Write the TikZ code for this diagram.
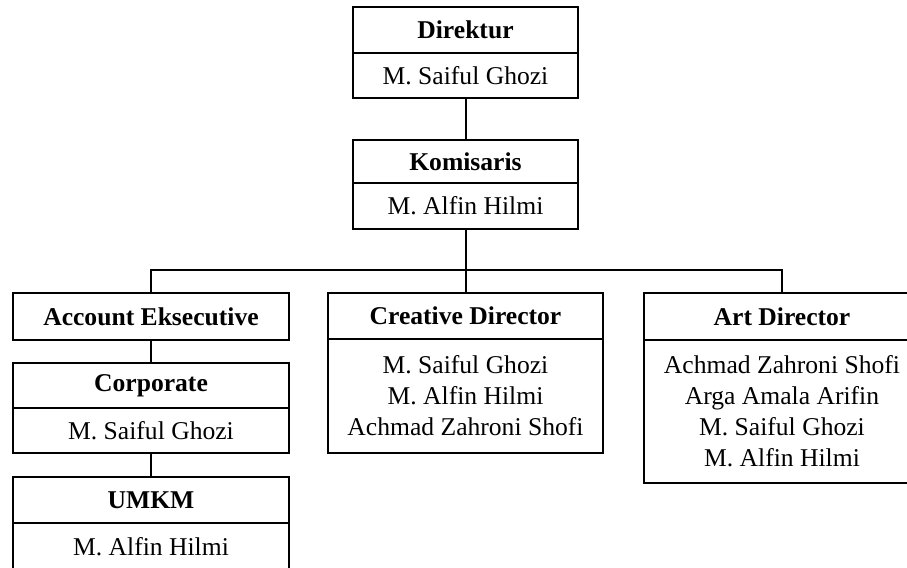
\documentclass[tikz,border=0pt]{standalone}
\usepackage{fontspec}
\setmainfont{Liberation Serif}
\usetikzlibrary{positioning}

\tikzset{
  cell/.style={draw, line width=1.2pt, inner sep=0pt, outer sep=0pt, align=center,
    font=\fontsize{12.8}{15.5}\selectfont},
  headcell/.style={cell, font=\fontsize{12.8}{15.5}\selectfont\bfseries},
  link/.style={line width=1pt}
}

\begin{document}
\begin{tikzpicture}[x=0.5pt, y=-0.5pt]
    % Frame of the picture
    \useasboundingbox (0,0) rectangle (907,568);
    \clip (0,0) rectangle (907,568);
    \fill[white] (0,0) rectangle (907,568);

    % Top of the chart
    \node[headcell, minimum width=112.5pt, minimum height=23pt] (dirT) at (465.5,30) {Direktur};
    \node[cell, minimum width=112.5pt, minimum height=22.5pt, below=0pt of dirT] (dirB) {M. Saiful Ghozi};

    \node[headcell, minimum width=112.5pt, minimum height=21.5pt] (komT) at (465.5,161.5) {Komisaris};
    \node[cell, minimum width=112.5pt, minimum height=23pt, below=0pt of komT] (komB) {M. Alfin Hilmi};

    % Left column
    \node[headcell, minimum width=138pt, minimum height=23.5pt] (accT) at (151,316.5) {Account Eksecutive};

    \node[headcell, minimum width=138pt, minimum height=22.5pt] (corT) at (151,385.5) {Corporate};
    \node[cell, minimum width=138pt, minimum height=22.5pt, below=0pt of corT] (corB) {M. Saiful Ghozi};

    \node[headcell, minimum width=138pt, minimum height=23pt] (umkT) at (151,500) {UMKM};
    \node[cell, minimum width=138pt, minimum height=24pt, below=0pt of umkT] (umkB) {M. Alfin Hilmi};

    % Middle column
    \node[headcell, minimum width=137.5pt, minimum height=23pt] (creT) at (465.5,316) {Creative Director};
    \node[cell, minimum width=137.5pt, minimum height=57pt, below=0pt of creT] (creB)
        {M. Saiful Ghozi\\M. Alfin Hilmi\\Achmad Zahroni Shofi};

    % Right column
    \node[headcell, minimum width=138pt, minimum height=23.5pt] (artT) at (782,316.5) {Art Director};
    \node[cell, minimum width=138pt, minimum height=71.5pt, below=0pt of artT] (artB)
        {Achmad Zahroni Shofi\\Arga Amala Arifin\\M. Saiful Ghozi\\M. Alfin Hilmi};

    % Connectors
    \coordinate (bus) at (465.5,270);
    \draw[link] (dirB.south) -- (komT.north);
    \draw[link] (komB.south) -- (creT.north);
    \draw[link] (accT.north) |- (bus) -| (artT.north);
    \draw[link] (accT.south) -- (corT.north);
    \draw[link] (corB.south) -- (umkT.north);

\end{tikzpicture}
\end{document}
